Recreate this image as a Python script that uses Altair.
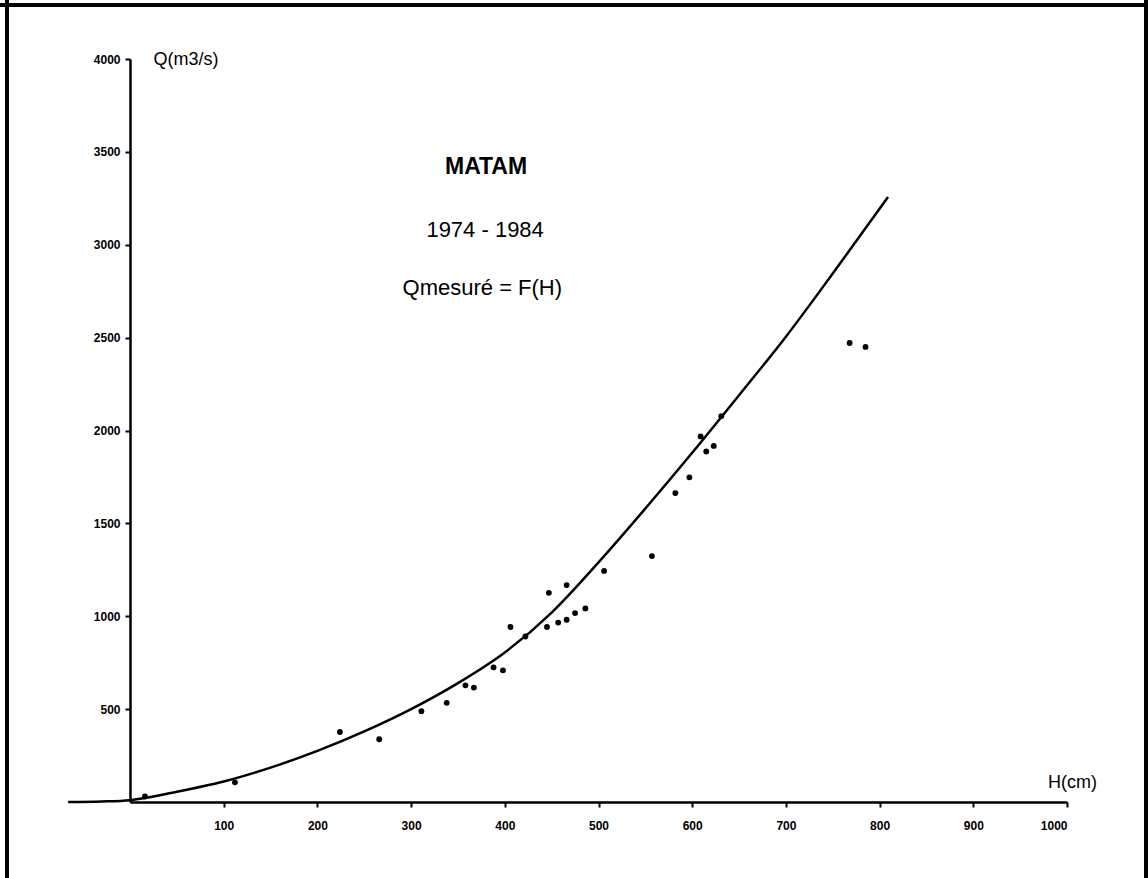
import altair as alt
import pandas as pd

# Rating curve
curve_h = [-66, -30, 0, 50, 100, 150, 200, 250, 300, 350, 400, 450, 500, 550, 600, 650, 700, 750, 809]
curve_q = [0, 3, 10, 55, 110, 185, 275, 380, 500, 640, 805, 1020, 1290, 1580, 1880, 2190, 2505, 2845, 3257]

# Measured points
pts_h = [16, 112, 224, 266, 311, 338, 358, 367, 388, 398, 406, 422, 445, 447, 457, 466, 466, 475, 486, 506,
         557, 582, 597, 609, 615, 623, 631, 768, 785]
pts_q = [30, 106, 377, 338, 489, 534, 628, 616, 725, 709, 942, 891, 942, 1126, 966, 981, 1168, 1017, 1042, 1244,
         1324, 1663, 1748, 1968, 1887, 1917, 2077, 2471, 2450]

# Annotations
ann_text = ["MATAM", "1974 - 1984", "Qmesuré = F(H)"]
ann_h = [380, 379, 376]
ann_q = [3418, 3079, 2767]
ann_weight = ["bold", "normal", "normal"]

x_ticks = [100, 200, 300, 400, 500, 600, 700, 800, 900, 1000]
y_ticks = [500, 1000, 1500, 2000, 2500, 3000, 3500, 4000]

curve_df = pd.DataFrame({"H": curve_h, "Q": curve_q})
pts_df = pd.DataFrame({"H": pts_h, "Q": pts_q})
ann_df = pd.DataFrame({"text": ann_text, "H": ann_h, "Q": ann_q, "w": ann_weight})

FONT = "Liberation Sans"

xscale = alt.Scale(domain=[0, 1000], nice=False, zero=False)
yscale = alt.Scale(domain=[0, 4000], nice=False, zero=False)

xaxis = alt.Axis(values=x_ticks, format="d", grid=False, domainColor="black", domainWidth=2.5,
                 tickColor="black", tickWidth=2, tickSize=5, labelPadding=13,
                 labelFont=FONT, labelFontSize=12, labelFontWeight="bold", labelColor="black",
                 title="H(cm)", titleFont=FONT, titleFontSize=18, titleFontWeight="normal",
                 titleColor="black", titleX=942, titleY=-20, titleAlign="center",
                 titleBaseline="middle", titleAngle=0)
yaxis = alt.Axis(values=y_ticks, format="d", grid=False, domainColor="black", domainWidth=2.5,
                 tickColor="black", tickWidth=2, tickSize=5, labelPadding=5,
                 labelFont=FONT, labelFontSize=12, labelFontWeight="bold", labelColor="black",
                 title="Q(m3/s)", titleFont=FONT, titleFontSize=18, titleFontWeight="normal",
                 titleColor="black", titleX=23, titleY=0, titleAlign="left",
                 titleBaseline="middle", titleAngle=0)

line = alt.Chart(curve_df).mark_line(color="black", strokeWidth=2.5, interpolate="monotone").encode(
    x=alt.X("H:Q", scale=xscale, axis=xaxis),
    y=alt.Y("Q:Q", scale=yscale, axis=yaxis),
)

points = alt.Chart(pts_df).mark_circle(color="black", size=34, opacity=1).encode(
    x=alt.X("H:Q", scale=xscale),
    y=alt.Y("Q:Q", scale=yscale),
)

ann_bold = alt.Chart(ann_df[ann_df.w == "bold"]).mark_text(
    font=FONT, fontSize=23, fontWeight="bold", color="black", align="center", baseline="middle"
).encode(x="H:Q", y="Q:Q", text="text:N")

ann_norm = alt.Chart(ann_df[ann_df.w == "normal"]).mark_text(
    font=FONT, fontSize=22, fontWeight="normal", color="black", align="center", baseline="middle"
).encode(x="H:Q", y="Q:Q", text="text:N")

# page frame (decoration)
frame_left = alt.Chart(pts_df).mark_rule(color="black", strokeWidth=3).encode(
    x=alt.value(-123), y=alt.value(-59), y2=alt.value(819))
frame_right = alt.Chart(pts_df).mark_rule(color="black", strokeWidth=3).encode(
    x=alt.value(1016), y=alt.value(-59), y2=alt.value(819))
frame_top = alt.Chart(pts_df).mark_rule(color="black", strokeWidth=3).encode(
    y=alt.value(-54), x=alt.value(-130), x2=alt.value(1018))

chart = alt.layer(frame_left, frame_right, frame_top, line, points, ann_bold, ann_norm).properties(
    width=937, height=743,
    autosize=alt.AutoSizeParams(type="none"),
    padding={"left": 130, "top": 59, "right": 81, "bottom": 76},
    background="white",
).configure_view(stroke=None)

chart.save("out.html", embed_options={"renderer": "svg", "actions": False})
